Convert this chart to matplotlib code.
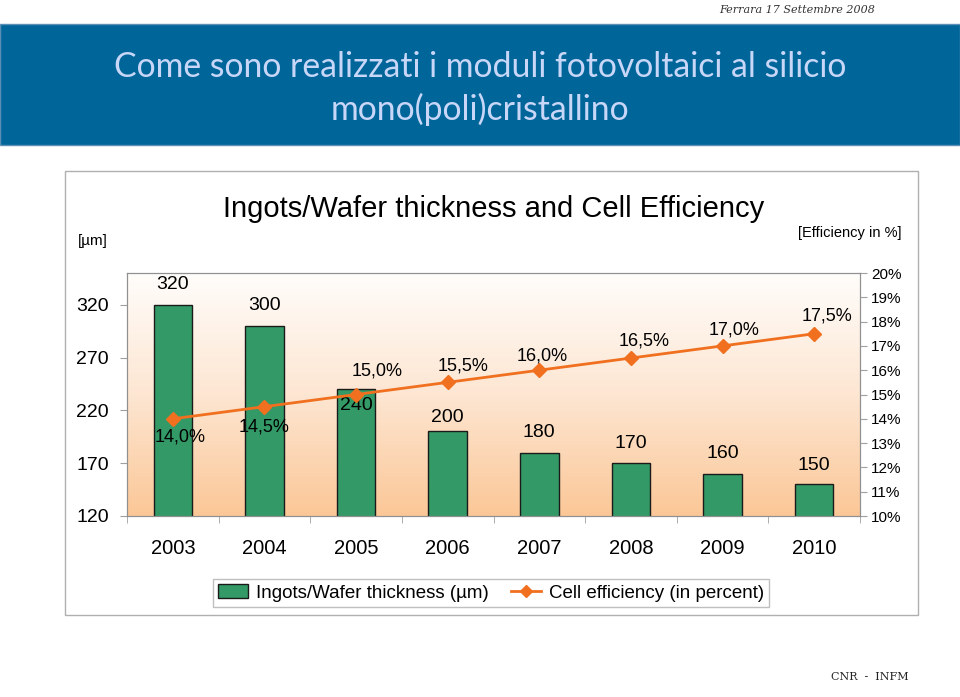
import numpy as np
import matplotlib.pyplot as plt
from matplotlib.patches import Rectangle
from matplotlib.lines import Line2D
from matplotlib.colors import LinearSegmentedColormap

# Data
years = ['2003', '2004', '2005', '2006', '2007', '2008', '2009', '2010']
thickness = [320, 300, 240, 200, 180, 170, 160, 150]  # um
efficiency = [14.0, 14.5, 15.0, 15.5, 16.0, 16.5, 17.0, 17.5]  # percent
left_ticks = [120, 170, 220, 270, 320]
right_ticks = [10, 11, 12, 13, 14, 15, 16, 17, 18, 19, 20]

# label offsets (pixels) - layout only
bar_label_dy = [20, 20, -16, 14, 20, 20, 20, 19]
pct_label_off = [(7, -18), (0, -20), (21, 24), (15, 16), (3, 14), (13, 17), (12, 16), (13, 18)]

W, H = 960, 697
fig = plt.figure(figsize=(W / 100, H / 100), dpi=100)
fig.patch.set_facecolor('white')
plt.rcParams['font.family'] = ['Liberation Sans', 'DejaVu Sans']

def fx(px):
    return px / W

def fy(py):
    return 1 - py / H

# Header band
fig.patches.append(Rectangle((0, fy(145)), 1, 121 / H, transform=fig.transFigure,
                             facecolor='#006699', edgecolor='#5b8fb5', lw=1, zorder=0))
fig.text(0.5, fy(67), 'Come sono realizzati i moduli fotovoltaici al silicio',
         ha='center', va='center', color='#c8d6f8', fontsize=24.3, family='Lato')
fig.text(0.5, fy(109), 'mono(poli)cristallino',
         ha='center', va='center', color='#c8d6f8', fontsize=24.3, family='Lato')
fig.text(fx(875), fy(10), 'Ferrara 17 Settembre 2008', ha='right', va='center',
         fontsize=8, style='italic', family='DejaVu Serif', color='#333333')

# Chart box
fig.patches.append(Rectangle((fx(65), fy(615)), 853 / W, 444 / H, transform=fig.transFigure,
                             facecolor='white', edgecolor='#b0b0b0', lw=1, zorder=0))

ax = fig.add_axes([fx(127), fy(516), (860 - 127) / W, (516 - 273) / H])
ax2 = ax.twinx()

x = np.arange(len(years))

# gradient background
cmap = LinearSegmentedColormap.from_list('peach', ['#fbc797', '#fde6d2', '#fffdfb'])
grad = np.linspace(0, 1, 256).reshape(-1, 1)
ax.imshow(grad, extent=[-0.5, 7.5, 120, 350], origin='lower', aspect='auto',
          cmap=cmap, zorder=0)

ax.bar(x, thickness, width=0.42, bottom=0, color='#339966', edgecolor='#1a1a1a',
       linewidth=1, zorder=2)
ax.set_xlim(-0.5, 7.5)
ax.set_ylim(120, 350)
ax.set_yticks(left_ticks)
ax.set_xticks(x)
ax.set_xticklabels(years)
ax.set_xticks(np.arange(-0.5, 8, 1), minor=True)
ax.tick_params(axis='x', which='major', length=0, pad=16.5, labelsize=14.5)
ax.tick_params(axis='x', which='minor', length=5, color='#a0a0a0')
ax.tick_params(axis='y', length=5, color='#a0a0a0', labelsize=14, pad=8)

for xi, v, dy in zip(x, thickness, bar_label_dy):
    ax.annotate(str(v), (xi, v), xytext=(0, dy), textcoords='offset pixels',
                ha='center', va='center', fontsize=14, zorder=5)

ax2.plot(x, efficiency, color='#f07020', lw=2, marker='D', markersize=7,
         markeredgecolor='#f07020', zorder=3)
ax2.set_ylim(10, 20)
ax2.set_yticks(right_ticks)
ax2.set_yticklabels(['%d%%' % t for t in right_ticks])
ax2.tick_params(axis='y', length=5, color='#a0a0a0', labelsize=11, pad=3)

for xi, v, (dx, dy) in zip(x, efficiency, pct_label_off):
    ax2.annotate(('%.1f%%' % v).replace('.', ','), (xi, v), xytext=(dx, dy),
                 textcoords='offset pixels', ha='center', va='center', fontsize=13)

for a in (ax, ax2):
    for s in a.spines.values():
        s.set_color('#909090')

ax.set_zorder(1)
ax2.set_zorder(2)
ax2.patch.set_visible(False)

fig.text(fx(494), fy(209), 'Ingots/Wafer thickness and Cell Efficiency', ha='center',
         va='center', fontsize=21)
fig.text(fx(93), fy(241), '[\u00b5m]', ha='center', va='center', fontsize=11)
fig.text(fx(850), fy(233), '[Efficiency in %]', ha='center', va='center', fontsize=10.5)

handles = [Rectangle((0, 0), 1, 1, facecolor='#339966', edgecolor='#1a1a1a'),
           Line2D([], [], color='#f07020', lw=2, marker='D', markersize=6)]
fig.legend(handles, ['Ingots/Wafer thickness (\u00b5m)', 'Cell efficiency (in percent)'],
           loc='center', bbox_to_anchor=(fx(491), fy(593)), ncol=2, fontsize=13.5,
           frameon=True, fancybox=False, edgecolor='#b0b0b0', handlelength=1.6,
           borderpad=0.3, columnspacing=1.2, handletextpad=0.4)

# logo text
fig.text(fx(870), fy(677), 'CNR  -  INFM', ha='center', va='center', fontsize=8,
         family='DejaVu Serif', color='#222222')

fig.savefig('out.png', dpi=100)
